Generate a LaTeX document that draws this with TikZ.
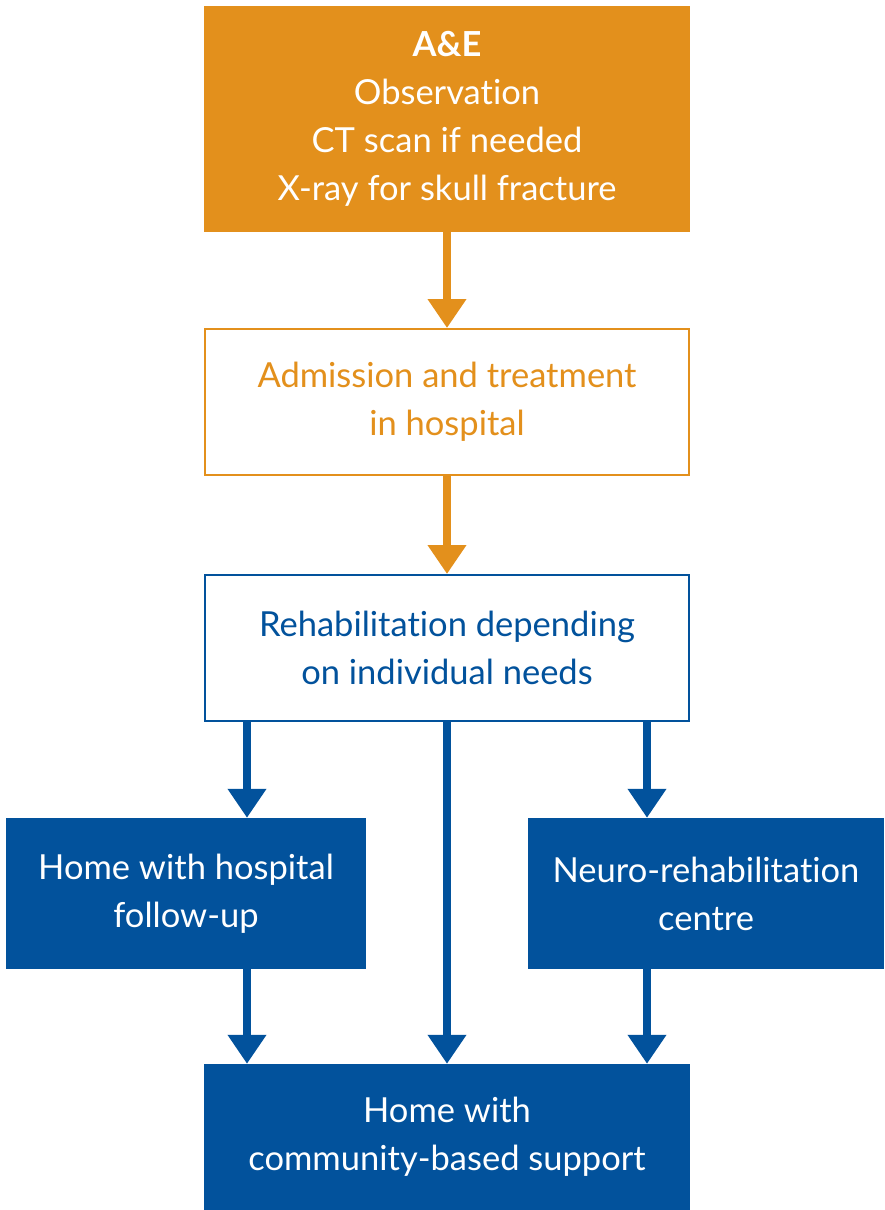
\documentclass[tikz,border=0pt]{standalone}
\usepackage{fontspec}
\setmainfont{Lato}[Ligatures=NoCommon]
\usetikzlibrary{arrows.meta,calc}
\definecolor{nhsorange}{HTML}{E3901C}
\definecolor{nhsblue}{HTML}{02529C}
\begin{document}
\begin{tikzpicture}[x=1pt,y=-1pt,
  txt/.style={align=center,font=\fontsize{34.5}{48}\selectfont,inner sep=0pt},
  solidbox/.style={txt,rectangle,fill=#1,text=white},
  linebox/.style={txt,rectangle,draw=#1,line width=2pt,fill=white,text=#1},
  flow/.style={draw=#1,line width=8pt,-{Triangle[width=37pt,length=29pt]}}
]
\useasboundingbox (0,0) rectangle (884,1210);

% boxes
\node[solidbox=nhsorange,minimum width=486pt,minimum height=226pt] (ae) at (447,119)
  {\textbf{A\&E}\\Observation\\CT scan if needed\\X-ray for skull fracture};
\node[linebox=nhsorange,minimum width=484pt,minimum height=146pt] (adm) at (447,402)
  {Admission and treatment\\in hospital};
\node[linebox=nhsblue,minimum width=484pt,minimum height=146pt] (rehab) at (447,648)
  {Rehabilitation depending\\on individual needs};
\node[solidbox=nhsblue,minimum width=360pt,minimum height=151pt] (hf) at (186,893.5)
  {Home with hospital\\follow-up};
\node[solidbox=nhsblue,minimum width=356pt,minimum height=151pt] (neuro) at (706,893.5)
  {Neuro-rehabilitation\\centre};
\node[solidbox=nhsblue,minimum width=486pt,minimum height=146pt] (comm) at (447,1137)
  {Home with\\community-based support};

% connectors
\draw[flow=nhsorange] (ae.south) -- (adm.north);
\draw[flow=nhsorange] (adm.south) -- (rehab.north);
\draw[flow=nhsblue] ([xshift=-200pt]rehab.south) -- ([xshift=-200pt]rehab.south |- hf.north);
\draw[flow=nhsblue] (rehab.south) -- (comm.north);
\draw[flow=nhsblue] ([xshift=200pt]rehab.south) -- ([xshift=200pt]rehab.south |- neuro.north);
\draw[flow=nhsblue] ([xshift=-200pt]rehab.south |- hf.south) -- ([xshift=-200pt]comm.north);
\draw[flow=nhsblue] ([xshift=200pt]rehab.south |- neuro.south) -- ([xshift=200pt]comm.north);
\end{tikzpicture}
\end{document}
